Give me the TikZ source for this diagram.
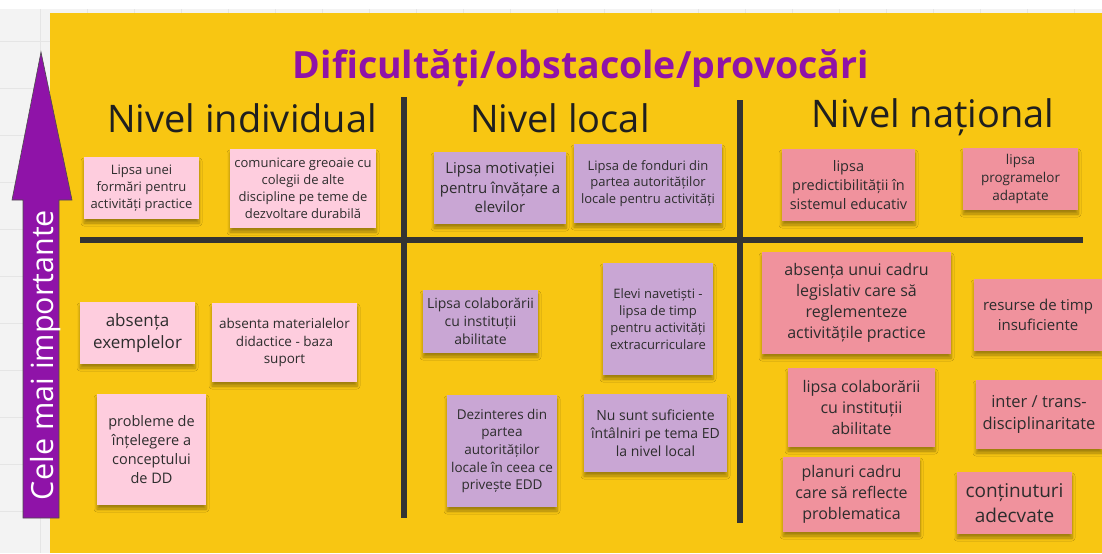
\documentclass[tikz,border=0pt]{standalone}
\usepackage{fontspec}
\setmainfont{Open Sans}
\usetikzlibrary{shadows.blur}

\newdimen\px \px=0.75pt
\newcommand\fpx[1]{\fontsize{#1\px}{1.3\dimexpr#1\px\relax}\selectfont}

\definecolor{canvas}{RGB}{243,243,243}
\definecolor{gridline}{RGB}{229,229,229}
\definecolor{boardyellow}{RGB}{248,198,18}
\definecolor{titlepurple}{RGB}{143,19,168}
\definecolor{linegray}{RGB}{51,51,51}
\definecolor{notetext}{RGB}{45,45,45}
\definecolor{pinkA}{RGB}{254,205,222}
\definecolor{lilac}{RGB}{201,166,212}
\definecolor{salmon}{RGB}{240,146,157}

\tikzset{
  postit/.style={fill=#1, text=notetext, align=center, inner sep=0pt,
    blur shadow={shadow xshift=0pt, shadow yshift=-4\px, shadow blur steps=6,
      shadow blur radius=3\px, shadow opacity=35}},
  level/.style={font=\fpx{38}, text=black!88, anchor=base},
  divider/.style={draw=linegray, line width=6\px},
}

\begin{document}
\begin{tikzpicture}[x=0.75pt, y=-0.75pt]
    \useasboundingbox (0,0) rectangle (1102,553);

    % canvas with grid
    \fill[white] (0,0) rectangle (1102,553);
    \fill[canvas] (0,9) rectangle (1102,553);
    \foreach \gx in {40,87,...,1100}
        \draw[gridline] (\gx,9) -- (\gx,553);
    \foreach \gy in {41,88,...,553}
        \draw[gridline] (0,\gy) -- (1102,\gy);

    % the board
    \fill[boardyellow] (50,13) rectangle (1102,553);

    % importance arrow
    \filldraw[fill=titlepurple, draw=black!70, line width=0.6\px]
        (23,518) -- (23,200) -- (12,200) -- (41,52) -- (72,200) -- (59,200) -- (59,518) -- cycle;
    \node[rotate=90, anchor=base, text=white, font=\fpx{30.5}] (axis) at (53,355) {Cele mai importante};

    % title and column heads
    \node[anchor=base, text=titlepurple, font=\bfseries\fpx{37.5}] (title) at (581,78) {Dificultăți/obstacole/provocări};
    \node[level] (indiv) at (242,132) {Nivel individual};
    \node[level] (local) at (560,132) {Nivel local};
    \node[level] (nation) at (933,127) {Nivel național};

    % dividers
    \draw[divider] (80,240) -- (1083,240);
    \draw[divider] (404,97) -- (404,518);
    \draw[divider] (740,100) -- (740,523);

    % individual level
    \node[postit=pinkA, minimum width=115\px, minimum height=62\px, font=\fpx{13}] (ind1) at (141.5,188)
        {Lipsa unei\\formări pentru\\activități practice};
    \node[postit=pinkA, minimum width=146\px, minimum height=79\px, font=\fpx{13}] (ind2) at (303,188.5)
        {comunicare greoaie cu\\colegii de alte\\discipline pe teme de\\dezvoltare durabilă};
    \node[postit=pinkA, minimum width=115\px, minimum height=62\px, font=\fpx{17}] (ind3) at (137.5,333)
        {absența\\exemplelor};
    \node[postit=pinkA, minimum width=145\px, minimum height=79\px, font=\fpx{13.5}] (ind4) at (284.5,342.5)
        {absenta materialelor\\didactice - baza\\suport};
    \node[postit=pinkA, minimum width=109\px, minimum height=111\px, font=\fpx{14.5}] (ind5) at (151.5,449.5)
        {probleme de\\înțelegere a\\conceptului\\de DD};

    % local level
    \node[postit=lilac, minimum width=132\px, minimum height=72\px, font=\fpx{15}] (loc1) at (500,188)
        {Lipsa motivației\\pentru învățare a\\elevilor};
    \node[postit=lilac, minimum width=148\px, minimum height=79\px, font=\fpx{13}] (loc2) at (648,183.5)
        {Lipsa de fonduri din\\partea autorităților\\locale pentru activități};
    \node[postit=lilac, minimum width=115\px, minimum height=63\px, font=\fpx{14}] (loc3) at (480.5,321.5)
        {Lipsa colaborării\\cu instituții\\abilitate};
    \node[postit=lilac, minimum width=110\px, minimum height=112\px, font=\fpx{13}] (loc4) at (658,319)
        {Elevi navetiști -\\lipsa de timp\\pentru activități\\extracurriculare};
    \node[postit=lilac, minimum width=110\px, minimum height=112\px, font=\fpx{13.5}] (loc5) at (502,451)
        {Dezinteres din\\partea\\autorităților\\locale în ceea ce\\privește EDD};
    \node[postit=lilac, minimum width=143\px, minimum height=78\px, font=\fpx{14}] (loc6) at (655.5,433)
        {Nu sunt suficiente\\întâlniri pe tema ED\\la nivel local};

    % national level
    \node[postit=salmon, minimum width=133\px, minimum height=72\px, font=\fpx{14.5}] (nat1) at (848.5,185)
        {lipsa\\predictibilității în\\sistemul educativ};
    \node[postit=salmon, minimum width=115\px, minimum height=62\px, font=\fpx{13.5}] (nat2) at (1020.5,179)
        {lipsa\\programelor\\adaptate};
    \node[postit=salmon, minimum width=189\px, minimum height=102\px, font=\fpx{16}] (nat3) at (856.5,303)
        {absența unui cadru\\legislativ care să\\reglementeze\\activitățile practice};
    \node[postit=salmon, minimum width=128\px, minimum height=72\px, font=\fpx{15}] (nat4) at (1038,315)
        {resurse de timp\\insuficiente};
    \node[postit=salmon, minimum width=147\px, minimum height=79\px, font=\fpx{16}] (nat5) at (861.5,407.5)
        {lipsa colaborării\\cu instituții\\abilitate};
    \node[postit=salmon, minimum width=126\px, minimum height=69\px, font=\fpx{16.5}] (nat6) at (1039,414.5)
        {inter / trans-\\disciplinaritate};
    \node[postit=salmon, minimum width=137\px, minimum height=75\px, font=\fpx{16}] (nat7) at (851.5,494.5)
        {planuri cadru\\care să reflecte\\problematica};
    \node[postit=salmon, minimum width=115\px, minimum height=62\px, font=\fpx{19}] (nat8) at (1014.5,503)
        {conținuturi\\adecvate};
\end{tikzpicture}
\end{document}
